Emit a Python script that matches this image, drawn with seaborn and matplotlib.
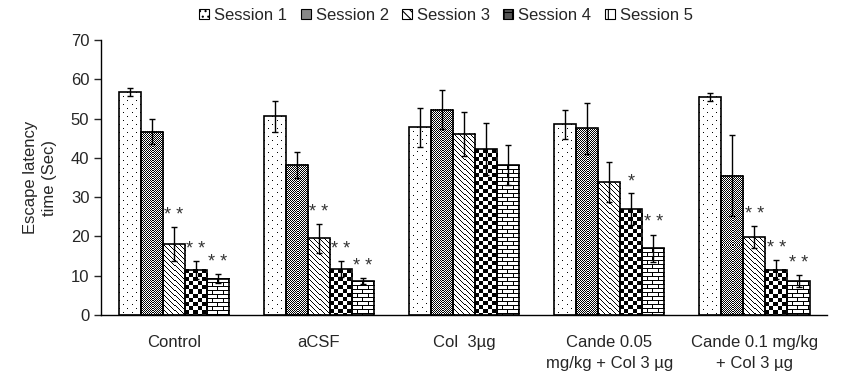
import numpy as np
import pandas as pd
import matplotlib
matplotlib.use('Agg')
import matplotlib.pyplot as plt
import seaborn as sns
from matplotlib.patches import Patch

# data
groups = ['Control', 'aCSF', 'Col  3µg', 'Cande 0.05\nmg/kg + Col 3 µg', 'Cande 0.1 mg/kg\n+ Col 3 µg']
sessions = ['Session 1', 'Session 2', 'Session 3', 'Session 4', 'Session 5']
means = [
    [56.7, 46.7, 18.0, 11.5, 9.3],
    [50.6, 38.3, 19.5, 11.7, 8.6],
    [47.8, 52.3, 46.2, 42.2, 38.1],
    [48.5, 47.5, 33.8, 26.9, 17.0],
    [55.6, 35.4, 19.8, 11.5, 8.6],
]
errs = [
    [1.0, 3.1, 4.3, 2.3, 1.1],
    [4.0, 3.3, 3.6, 2.0, 0.8],
    [5.0, 5.0, 5.6, 6.6, 5.1],
    [3.8, 6.4, 5.1, 4.1, 3.5],
    [1.0, 10.3, 2.8, 2.4, 1.5],
]
stars = [
    ['', '', '* *', '* *', '* *'],
    ['', '', '* *', '* *', '* *'],
    ['', '', '', '', ''],
    ['', '', '', '*', '* *'],
    ['', '', '* *', '* *', '* *'],
]

df = pd.DataFrame([(g, s, means[i][j], errs[i][j], stars[i][j])
                   for i, g in enumerate(groups) for j, s in enumerate(sessions)],
                  columns=['group', 'session', 'mean', 'err', 'star'])

sns.set_style('white')
plt.rcParams['font.family'] = ['Liberation Sans', 'DejaVu Sans']
plt.rcParams['hatch.linewidth'] = 0.8

fig = plt.figure(figsize=(8.43, 3.81), dpi=100)
ax = fig.add_axes([0.12, 0.173, 0.861, 0.722])

sns.barplot(data=df, x='group', y='mean', hue='session', order=groups, hue_order=sessions,
            errorbar=None, width=0.76, palette=['white'] * 5, edgecolor='black',
            linewidth=1.2, ax=ax, legend=False)
ax.set_xlim(-0.5, 4.5)
ax.set_ylim(0, 70)
fig.canvas.draw()

# pixel tiles for the fill patterns (0 = black, 1 = white)
dots = np.ones((8, 8))
dots[0, 0] = 0
dots[4, 4] = 0
fine = np.ones((2, 2))
fine[0, 0] = 0
fine[1, 1] = 0
diag = np.ones((5, 5))
for r in range(5):
    diag[r, r] = 0
checker = np.ones((8, 8))
checker[:4, :4] = 0
checker[4:, 4:] = 0
brick = np.ones((8, 10))
brick[0, :] = 0
brick[4, :] = 0
brick[1:4, 0] = 0
brick[5:8, 5] = 0
tiles = [dots, fine, diag, checker, brick]

bar_conts = list(ax.containers)
for k, cont in enumerate(bar_conts):
    for i, p in enumerate(cont.patches):
        x0, w, h = p.get_x(), p.get_width(), p.get_height()
        p.set_facecolor('none')
        p.set_zorder(3)
        (px0, py0), (px1, py1) = ax.transData.transform([(x0, 0), (x0 + w, h)])
        nx, ny = int(round(px1 - px0)), int(round(py1 - py0))
        t = tiles[k]
        img = np.tile(t, (ny // t.shape[0] + 2, nx // t.shape[1] + 2))[:ny, :nx]
        ax.imshow(img, extent=[x0, x0 + w, 0, h], cmap='gray', vmin=0, vmax=1,
                  interpolation='nearest', aspect='auto', zorder=2, origin='upper')
        xc = x0 + w / 2
        m, e = means[i][k], errs[i][k]
        ax.errorbar(xc, m, yerr=e, fmt='none', ecolor='black', elinewidth=1,
                    capsize=2.5, capthick=1, zorder=5)
        if stars[i][k]:
            ax.text(xc, m + e + 0.8, stars[i][k], ha='center', va='bottom', fontsize=13,
                    color='#333333', zorder=5)

ax.set_xlim(-0.5, 4.5)
ax.set_ylim(0, 70)
ax.set_yticks(range(0, 71, 10))
ax.set_xticks(range(5))
ax.set_xticklabels(groups, fontsize=12)
for lbl in ax.get_xticklabels():
    lbl.set_linespacing(1.5)
ax.set_xticks(np.arange(-0.5, 5, 1), minor=True)
ax.tick_params(axis='x', which='major', length=0, pad=14)
ax.tick_params(axis='x', which='minor', length=5, direction='out', width=1)
ax.tick_params(axis='y', length=5, direction='out', width=1, labelsize=12, left=True)
ax.set_xlabel('')
ax.set_ylabel('Escape latency\ntime (Sec)', fontsize=12, labelpad=10, linespacing=1.3)
for s in ['top', 'right']:
    ax.spines[s].set_visible(False)
for s in ['left', 'bottom']:
    ax.spines[s].set_color('black')
    ax.spines[s].set_linewidth(1)

leg_style = [('white', '...'), ('#888888', None), ('white', '\\\\\\\\'), ('#555555', '++'), ('white', '-|')]
handles = [Patch(facecolor=fc, edgecolor='black', hatch=h, label=s, linewidth=0.8)
           for (fc, h), s in zip(leg_style, sessions)]
fig.legend(handles=handles, loc='center', bbox_to_anchor=(0.529, 0.96), ncol=5, frameon=False,
           fontsize=12, handlelength=0.6, handleheight=0.6, handletextpad=0.3, columnspacing=0.8)

fig.savefig('out.png', dpi=100)
